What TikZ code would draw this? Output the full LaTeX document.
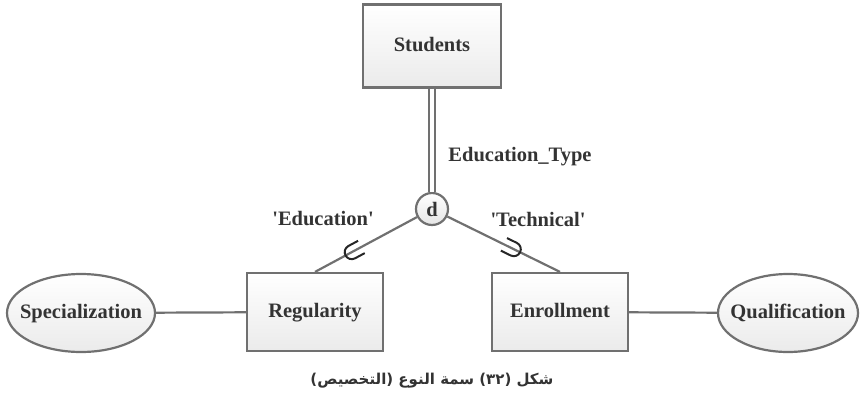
\documentclass[tikz,border=0pt]{standalone}
\usepackage{fontspec}
\setmainfont{Liberation Serif}
\newfontfamily\arabicfont[Script=Arabic]{DejaVu Sans}
\TeXXeTstate=1
\usetikzlibrary{positioning,shapes.geometric,decorations.markings}
\definecolor{edgegray}{RGB}{112,112,112}
\definecolor{textgray}{RGB}{51,51,51}

\begin{document}
\begin{tikzpicture}[x=1pt, y=-1pt, font=\fontsize{20.5}{24}\selectfont\bfseries, text=textgray]
    % Define styles
    \tikzset{entity/.style={draw=edgegray, line width=2.2pt, top color=white, bottom color=black!8, minimum width=136pt, minimum height=78pt, inner sep=0pt, text height=14pt, text depth=4pt}}
    \tikzset{attribute/.style={draw=edgegray, ellipse, line width=2.2pt, top color=white, bottom color=black!8, minimum width=148pt, minimum height=78pt, inner xsep=-13pt, inner ysep=0pt, text height=14pt, text depth=4pt}}
    \tikzset{disjoint/.style={draw=edgegray, circle, line width=2.2pt, top color=white, bottom color=black!10, minimum size=32pt, inner sep=0pt}}
    \tikzset{link/.style={draw=edgegray, line width=2.2pt}}
    \tikzset{subset at/.style={postaction={decorate}, decoration={markings, mark=at position #1 with {\draw[black!85, line width=2pt] (-11,-7) -- (0,-7) arc (-90:90:7) -- (-11,7);}}}}
    \useasboundingbox (0,0) rectangle (864,402);

    % Draw entities and attributes
    \node[entity, minimum width=138pt, minimum height=83pt] (students) at (432,46) {Students};
    \node[disjoint] (d) at (432,209) {d};
    \node[entity] (regularity) at (315,312) {Regularity};
    \node[entity] (enrollment) at (560,312) {Enrollment};
    \node[attribute] (specialization) at (81,313) {Specialization};
    \node[attribute, minimum width=140pt] (qualification) at (788,313) {Qualification};

    % Connect them
    \draw[link, double=white, double distance=4pt] (students) -- (d);
    \draw[link, subset at=0.64] (d) -- (regularity.north);
    \draw[link, subset at=0.59] (d) -- (enrollment.north);
    \draw[link] (specialization) -- (regularity);
    \draw[link] (enrollment) -- (qualification);

    % Labels
    \node (edutype) at (520,157) {Education\_Type};
    \node (educ) at (323,219) {\textquotesingle Education\textquotesingle};
    \node (tech) at (538,219) {\textquotesingle Technical\textquotesingle};
    \node[font=\arabicfont\bfseries\fontsize{15}{20}\selectfont] (caption) at (432,381) {\beginR شكل (\beginL ٣٢\endL) سمة النوع (التخصيص)\endR};
\end{tikzpicture}
\end{document}
